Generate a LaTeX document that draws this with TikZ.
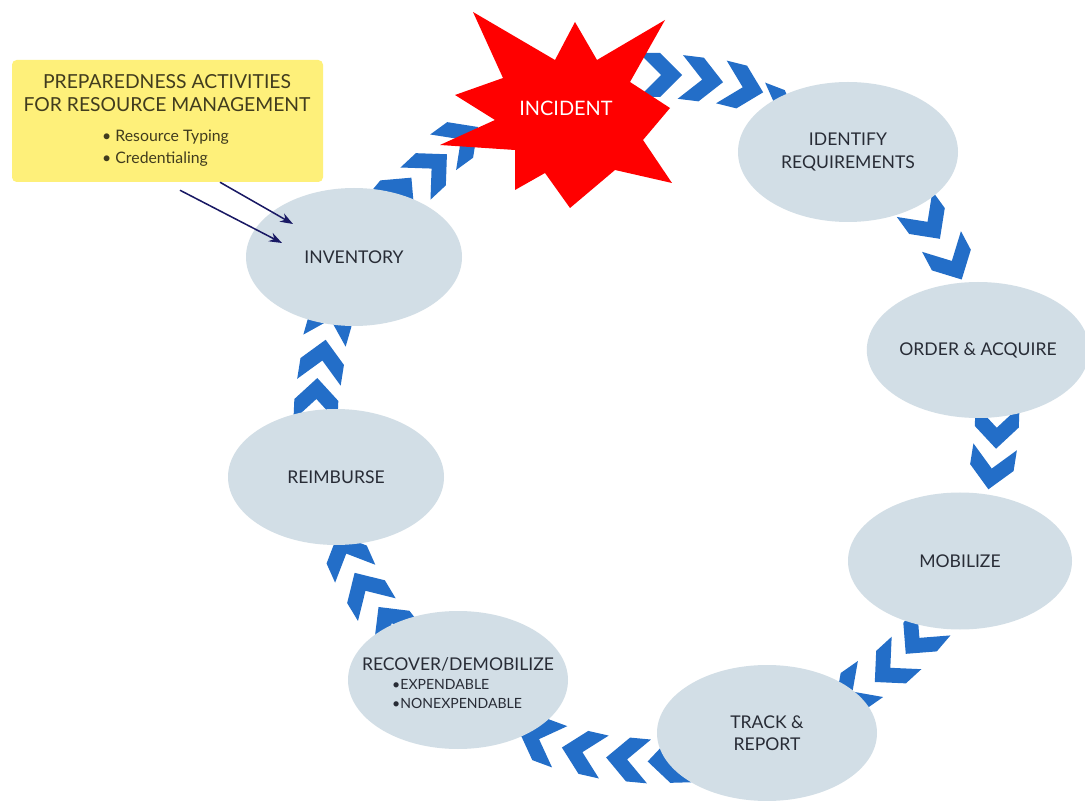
\documentclass[tikz,border=0pt]{standalone}
\usepackage{fontspec}
\setmainfont{Lato}
\usetikzlibrary{arrows.meta,calc,shapes.geometric}
\definecolor{chevblue}{RGB}{35,110,200}
\definecolor{ellfill}{RGB}{210,222,230}
\definecolor{boxyellow}{RGB}{254,240,122}
\definecolor{txtgray}{RGB}{40,44,54}
\definecolor{boxtxt}{RGB}{65,60,30}
\definecolor{navyline}{RGB}{25,25,100}
\begin{document}
\begin{tikzpicture}[x=0.03cm,y=0.03cm,
  sz/.style 2 args={minimum width=#1*0.03cm, minimum height=#2*0.03cm},
  stage/.style={ellipse, fill=ellfill, inner sep=0pt, align=center, text=txtgray,
    font=\fontsize{15}{19}\selectfont},
  chev/.pic={\fill[chevblue] (-21,22) -- (0,22) -- (22,0) -- (0,-22) -- (-21,-22) -- (1,0) -- cycle;},
  navyarrow/.style={draw=navyline, line width=1.3pt, -{Stealth[length=11pt,width=8pt]}}
]
\useasboundingbox (0,0) rectangle (1085,800);
\fill[white] (0,0) rectangle (1085,800);
\coordinate (c) at (660,385);
% chevron cycle
\foreach \a/\r in {140/343, 133/336, 126/340, 90/340, 83/338, 76/338, 69/326,
                   36/330, 28/330, -2/337, -9/336, -40.5/342, -47.5/342, -55/337,
                   249.7/346, 257.2/346, 264.7/346, 271.6/346,
                   204/343, 211/343, 218/340, 164/343, 171/342, 177.5/344}
  \path (c) ++(\a:\r) pic[rotate=\a-90]{chev};
% stages
\node[stage, sz={216}{138}] (inv) at (354,543) {INVENTORY};
\node[stage, sz={220}{140}] (idr) at (848,648) {IDENTIFY\\REQUIREMENTS};
\node[stage, sz={210}{136}] (ord) at (978,450) {ORDER \& ACQUIRE};
\node[stage, sz={224}{137}] (mob) at (960,239) {MOBILIZE};
\node[stage, sz={220}{136}] (trk) at (767,67) {TRACK \&\\REPORT};
\node[stage, sz={220}{138}] (rec) at (458,120) {};
\node[stage, sz={216}{136}] (rei) at (336,323) {REIMBURSE};
\node[text=txtgray, font=\fontsize{15}{19}\selectfont] (recT) at (458,136) {RECOVER/DEMOBILIZE};
\node[text=txtgray, font=\fontsize{12}{17}\selectfont, anchor=west, align=left, inner sep=0pt] (recB) at (392,106) {•EXPENDABLE\\•NONEXPENDABLE};
% incident star
\fill[red] (473,788) -- (555,740) -- (575,778) -- (597,740) -- (665,780) -- (630,718)
  -- (670,692) -- (643,660) -- (672,617) -- (615,630) -- (570,592) -- (545,627)
  -- (515,610) -- (515,650) -- (440,655) -- (495,680) -- (455,705) -- (503,722) -- cycle;
\node[text=white, font=\fontsize{17}{20}\selectfont] (inc) at (566,692) {INCIDENT};
% preparedness box
\node[fill=boxyellow, rounded corners=4pt, minimum width=311*0.03cm, minimum height=122*0.03cm, inner sep=0pt] (box) at (167.5,679) {};
\node[text=boxtxt, align=center, font=\fontsize{16.5}{20}\selectfont] (ttl) at (167,707) {PREPAREDNESS ACTIVITIES\\FOR RESOURCE MANAGEMENT};
\node[text=boxtxt, align=left, anchor=west, inner sep=0pt, font=\fontsize{13.5}{19}\selectfont] (bul) at (102,652) {• Resource Typing\\• Credentialing};
% arrows into inventory
\coordinate (a1s) at ($(box.south)+(52.5,0)$);
\coordinate (a1e) at (293,576);
\coordinate (a2s) at ($(box.south)+(12.5,-8)$);
\coordinate (a2e) at (282,557);
\draw[navyarrow] (a1s) -- (a1e);
\draw[navyarrow] (a2s) -- (a2e);
\end{tikzpicture}
\end{document}
